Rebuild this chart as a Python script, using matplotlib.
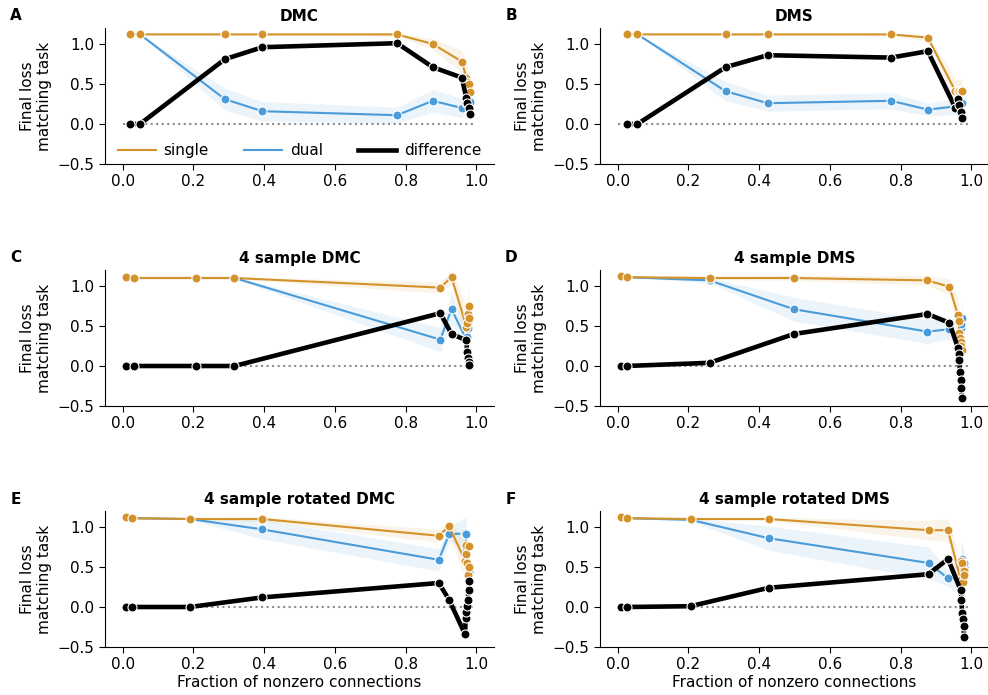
import matplotlib
matplotlib.use('Agg')
import matplotlib.pyplot as plt
from matplotlib.lines import Line2D
import numpy as np

plt.rcParams['font.family'] = ['DejaVu Sans']
plt.rcParams['font.size'] = 11

ORANGE = '#d4922a'
BLUE = '#4a9bd9'

# ---------------- data ----------------
titles = ['DMC', 'DMS', '4 sample DMC', '4 sample DMS',
          '4 sample rotated DMC', '4 sample rotated DMS']
letters = ['A', 'B', 'C', 'D', 'E', 'F']

x_A = [0.022, 0.049, 0.289, 0.395, 0.776, 0.877, 0.959, 0.972, 0.975, 0.978, 0.981]
single_A = [1.13, 1.12, 1.12, 1.12, 1.12, 1.00, 0.78, 0.58, 0.53, 0.50, 0.40]
dual_A = [1.13, 1.12, 0.31, 0.16, 0.11, 0.29, 0.20, 0.26, 0.27, 0.30, 0.27]
diff_A = [0.0, 0.0, 0.81, 0.96, 1.01, 0.71, 0.58, 0.32, 0.26, 0.20, 0.13]
single_err_A = [0.0, 0.0, 0.01, 0.01, 0.02, 0.07, 0.14, 0.18, 0.18, 0.18, 0.18]
dual_err_A = [0.0, 0.0, 0.14, 0.12, 0.10, 0.14, 0.12, 0.12, 0.12, 0.12, 0.12]

x_B = [0.025, 0.056, 0.305, 0.424, 0.773, 0.877, 0.955, 0.961, 0.966, 0.970, 0.974]
single_B = [1.13, 1.12, 1.12, 1.12, 1.12, 1.08, 0.41, 0.41, 0.41, 0.41, 0.41]
dual_B = [1.13, 1.12, 0.41, 0.26, 0.29, 0.18, 0.22, 0.21, 0.22, 0.24, 0.26]
diff_B = [0.0, 0.0, 0.71, 0.86, 0.83, 0.91, 0.20, 0.31, 0.24, 0.15, 0.07]
single_err_B = [0.0, 0.0, 0.01, 0.01, 0.02, 0.04, 0.15, 0.15, 0.15, 0.15, 0.15]
dual_err_B = [0.0, 0.0, 0.12, 0.10, 0.10, 0.08, 0.10, 0.10, 0.10, 0.10, 0.10]

x_C = [0.008, 0.033, 0.206, 0.316, 0.898, 0.930, 0.972, 0.974, 0.976, 0.978, 0.980]
single_C = [1.11, 1.10, 1.10, 1.10, 0.98, 1.11, 0.49, 0.54, 0.65, 0.75, 0.60]
dual_C = [1.11, 1.10, 1.10, 1.10, 0.33, 0.71, 0.33, 0.36, 0.47, 0.62, 0.58]
diff_C = [0.0, 0.0, 0.0, 0.0, 0.66, 0.40, 0.32, 0.18, 0.10, 0.05, 0.01]
single_err_C = [0.01, 0.01, 0.01, 0.01, 0.07, 0.09, 0.25, 0.25, 0.25, 0.25, 0.25]
dual_err_C = [0.0, 0.0, 0.0, 0.01, 0.15, 0.20, 0.15, 0.15, 0.15, 0.15, 0.15]

x_D = [0.008, 0.025, 0.260, 0.498, 0.876, 0.938, 0.962, 0.964, 0.966, 0.968, 0.970, 0.972, 0.974]
single_D = [1.12, 1.11, 1.10, 1.10, 1.07, 0.99, 0.64, 0.56, 0.41, 0.35, 0.30, 0.25, 0.20]
dual_D = [1.12, 1.11, 1.07, 0.71, 0.43, 0.46, 0.41, 0.41, 0.37, 0.43, 0.48, 0.52, 0.60]
diff_D = [0.0, 0.0, 0.04, 0.40, 0.65, 0.54, 0.23, 0.15, 0.07, -0.08, -0.18, -0.27, -0.40]
single_err_D = [0.01, 0.01, 0.02, 0.03, 0.06, 0.10, 0.22, 0.22, 0.22, 0.22, 0.22, 0.22, 0.22]
dual_err_D = [0.0, 0.0, 0.03, 0.15, 0.15, 0.12, 0.20, 0.20, 0.20, 0.20, 0.20, 0.20, 0.20]

x_E = [0.008, 0.027, 0.190, 0.395, 0.894, 0.923, 0.968, 0.970, 0.972, 0.974, 0.976, 0.978, 0.980]
single_E = [1.12, 1.11, 1.10, 1.10, 0.89, 1.01, 0.58, 0.77, 0.66, 0.55, 0.40, 0.50, 0.76]
dual_E = [1.12, 1.11, 1.10, 0.97, 0.59, 0.91, 0.92, 0.91, 0.72, 0.54, 0.44, 0.44, 0.44]
diff_E = [0.0, 0.0, 0.0, 0.12, 0.30, 0.09, -0.34, -0.14, -0.06, 0.01, 0.09, 0.21, 0.32]
single_err_E = [0.01, 0.01, 0.01, 0.03, 0.08, 0.07, 0.25, 0.25, 0.25, 0.25, 0.25, 0.25, 0.25]
dual_err_E = [0.0, 0.0, 0.01, 0.12, 0.14, 0.09, 0.20, 0.20, 0.20, 0.20, 0.20, 0.20, 0.20]

x_F = [0.008, 0.027, 0.206, 0.427, 0.879, 0.934, 0.970, 0.972, 0.974, 0.976, 0.978, 0.980]
single_F = [1.12, 1.11, 1.10, 1.10, 0.96, 0.96, 0.34, 0.57, 0.55, 0.31, 0.45, 0.40]
dual_F = [1.12, 1.11, 1.09, 0.86, 0.55, 0.36, 0.35, 0.48, 0.60, 0.46, 0.50, 0.55]
diff_F = [0.0, 0.0, 0.01, 0.24, 0.41, 0.60, 0.21, 0.09, -0.08, -0.15, -0.24, -0.38]
single_err_F = [0.01, 0.01, 0.01, 0.02, 0.12, 0.14, 0.25, 0.25, 0.25, 0.25, 0.25, 0.25]
dual_err_F = [0.0, 0.0, 0.02, 0.15, 0.20, 0.10, 0.22, 0.22, 0.22, 0.22, 0.22, 0.22]

panels = [
    (x_A, single_A, dual_A, diff_A, single_err_A, dual_err_A),
    (x_B, single_B, dual_B, diff_B, single_err_B, dual_err_B),
    (x_C, single_C, dual_C, diff_C, single_err_C, dual_err_C),
    (x_D, single_D, dual_D, diff_D, single_err_D, dual_err_D),
    (x_E, single_E, dual_E, diff_E, single_err_E, dual_err_E),
    (x_F, single_F, dual_F, diff_F, single_err_F, dual_err_F),
]

# ---------------- layout ----------------
W, H = 988, 695
fig = plt.figure(figsize=(W / 100, H / 100), dpi=100)

col_left = [105, 600]
ax_w = 389
row_top = [28, 270, 511]
ax_h = 136

axes = []
for i in range(6):
    r, c = divmod(i, 2)
    left = col_left[c] / W
    bottom = 1 - (row_top[r] + ax_h) / H
    ax = fig.add_axes([left, bottom, ax_w / W, ax_h / H])
    axes.append(ax)

mk = dict(marker='o', ms=6.5, mec='white', mew=0.8)

for i, (ax, data) in enumerate(zip(axes, panels)):
    x, s, d, df, se, de = [np.asarray(v, dtype=float) for v in data]
    ax.fill_between(x, d - de, d + de, color=BLUE, alpha=0.11, lw=0)
    ax.fill_between(x, s - se, s + se, color=ORANGE, alpha=0.11, lw=0)
    ax.hlines(0, 0, 1, colors='#8c8c8c', linestyles=':', lw=1.5, zorder=1)
    ax.plot(x, d, color=BLUE, lw=1.5, zorder=3, **mk)
    ax.plot(x, s, color=ORANGE, lw=1.5, zorder=4, **mk)
    ax.plot(x, df, color='black', lw=3.3, zorder=5, **mk)

    ax.set_xlim(-0.05, 1.05)
    ax.set_ylim(-0.5, 1.2)
    ax.set_xticks([0.0, 0.2, 0.4, 0.6, 0.8, 1.0])
    ax.set_yticks([-0.5, 0.0, 0.5, 1.0])
    ax.set_xticklabels(['0.0', '0.2', '0.4', '0.6', '0.8', '1.0'])
    ax.set_yticklabels(['\u22120.5', '0.0', '0.5', '1.0'])
    for sp in ['top', 'right']:
        ax.spines[sp].set_visible(False)
    ax.tick_params(labelsize=11, length=4)
    ax.set_title(titles[i], fontweight='bold', fontsize=11, pad=5)
    ax.set_ylabel('Final loss\nmatching task', fontsize=11, labelpad=4)
    if i >= 4:
        ax.set_xlabel('Fraction of nonzero connections', fontsize=11, labelpad=2)
    r, c = divmod(i, 2)
    fig.text([16, 511][c] / W, 1 - [16, 257, 499][r] / H, letters[i],
             fontweight='bold', fontsize=11, ha='center', va='center')

handles = [Line2D([], [], color=ORANGE, lw=1.5),
           Line2D([], [], color=BLUE, lw=1.5),
           Line2D([], [], color='black', lw=3.3)]
axes[0].legend(handles, ['single', 'dual', 'difference'], loc='lower center',
               ncol=3, frameon=False, fontsize=11, handlelength=2.5,
               handletextpad=0.5, columnspacing=2.3,
               bbox_to_anchor=(0.5, -0.06))

fig.savefig('out.png', dpi=100)
